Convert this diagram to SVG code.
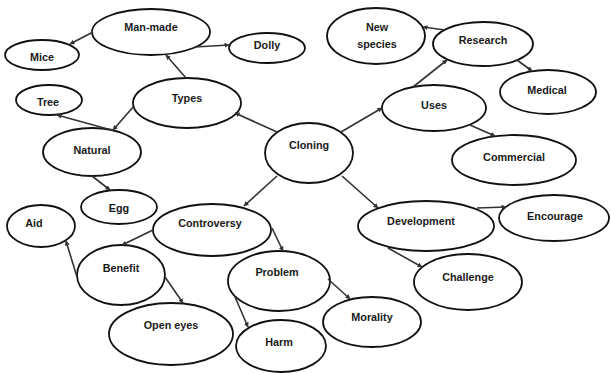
<svg xmlns="http://www.w3.org/2000/svg" width="611" height="373" viewBox="0 0 611 373">
<defs>
<marker id="ah" viewBox="0 0 10 10" refX="9" refY="5" markerWidth="5" markerHeight="5" orient="auto" markerUnits="userSpaceOnUse">
<path d="M0,0 L10,5 L0,10 z" fill="#333"/>
</marker>
<style>
ellipse{fill:#fff;stroke:#111;stroke-width:1.8}
text{font-family:"Liberation Sans",Arial,sans-serif;font-weight:bold;font-size:10.8px;fill:#1a1a1a;text-anchor:middle}
#connectors line{stroke:#333;stroke-width:1.6;marker-end:url(#ah)}
</style>
</defs>
<rect width="611" height="373" fill="#fff"/>
<g id="cloning"><ellipse cx="309" cy="153" rx="44" ry="30"/><text x="309" y="149">Cloning</text></g>
<g id="types"><ellipse cx="187" cy="103" rx="54" ry="25"/><text x="187" y="102">Types</text></g>
<g id="manmade"><ellipse cx="151" cy="32" rx="59" ry="23"/><text x="151" y="31">Man-made</text></g>
<g id="mice"><ellipse cx="42" cy="55" rx="37" ry="15"/><text x="42" y="61">Mice</text></g>
<g id="dolly"><ellipse cx="267" cy="48" rx="38" ry="15"/><text x="267" y="49">Dolly</text></g>
<g id="tree"><ellipse cx="49" cy="100" rx="33" ry="15"/><text x="48" y="106">Tree</text></g>
<g id="natural"><ellipse cx="92" cy="152" rx="49" ry="24"/><text x="92" y="154">Natural</text></g>
<g id="egg"><ellipse cx="119" cy="207" rx="38" ry="17"/><text x="119" y="212">Egg</text></g>
<g id="uses"><ellipse cx="434" cy="108" rx="52" ry="23"/><text x="434" y="109">Uses</text></g>
<g id="research"><ellipse cx="483" cy="44" rx="50" ry="22"/><text x="483" y="44">Research</text></g>
<g id="newspecies"><ellipse cx="376" cy="36" rx="49" ry="28"/><text x="377" y="31">New</text><text x="377" y="48">species</text></g>
<g id="medical"><ellipse cx="548" cy="92" rx="48" ry="22"/><text x="547" y="94">Medical</text></g>
<g id="commercial"><ellipse cx="514" cy="160" rx="62" ry="25"/><text x="514" y="161">Commercial</text></g>
<g id="controversy"><ellipse cx="212" cy="230" rx="59" ry="26"/><text x="210" y="227">Controversy</text></g>
<g id="development"><ellipse cx="426" cy="226" rx="68" ry="25"/><text x="421" y="225">Development</text></g>
<g id="encourage"><ellipse cx="554" cy="218" rx="55" ry="23"/><text x="555" y="220">Encourage</text></g>
<g id="challenge"><ellipse cx="468" cy="282" rx="54" ry="28"/><text x="468" y="281">Challenge</text></g>
<g id="aid"><ellipse cx="41" cy="226" rx="34" ry="21"/><text x="34" y="227">Aid</text></g>
<g id="benefit"><ellipse cx="121" cy="275" rx="44" ry="30"/><text x="121" y="272">Benefit</text></g>
<g id="openeyes"><ellipse cx="171" cy="334" rx="62" ry="31"/><text x="171" y="329">Open eyes</text></g>
<g id="problem"><ellipse cx="279" cy="281" rx="51" ry="30"/><text x="277" y="276">Problem</text></g>
<g id="harm"><ellipse cx="281" cy="346" rx="45" ry="26"/><text x="279" y="346">Harm</text></g>
<g id="morality"><ellipse cx="372" cy="322" rx="49" ry="25"/><text x="372" y="321">Morality</text></g>
<g id="connectors">
<line x1="277" y1="132" x2="235" y2="113"/>
<line x1="186" y1="78" x2="166" y2="55"/>
<line x1="93" y1="32" x2="70" y2="44"/>
<line x1="195" y1="47" x2="229" y2="45"/>
<line x1="134" y1="106" x2="113" y2="130"/>
<line x1="115" y1="131" x2="57" y2="115"/>
<line x1="92" y1="176" x2="110" y2="190"/>
<line x1="341" y1="132" x2="382" y2="108"/>
<line x1="413" y1="87" x2="447" y2="60"/>
<line x1="445" y1="30" x2="423" y2="27"/>
<line x1="517" y1="60" x2="532" y2="71"/>
<line x1="470" y1="125" x2="495" y2="136"/>
<line x1="277" y1="176" x2="244" y2="206"/>
<line x1="342" y1="176" x2="378" y2="208"/>
<line x1="477" y1="208" x2="506" y2="207"/>
<line x1="388" y1="248" x2="422" y2="267"/>
<line x1="153" y1="230" x2="122" y2="245"/>
<line x1="272" y1="228" x2="283" y2="251"/>
<line x1="77" y1="277" x2="66" y2="241"/>
<line x1="165" y1="277" x2="183" y2="303"/>
<line x1="235" y1="297" x2="248" y2="327"/>
<line x1="328" y1="279" x2="350" y2="299"/>
</g>
</svg>
